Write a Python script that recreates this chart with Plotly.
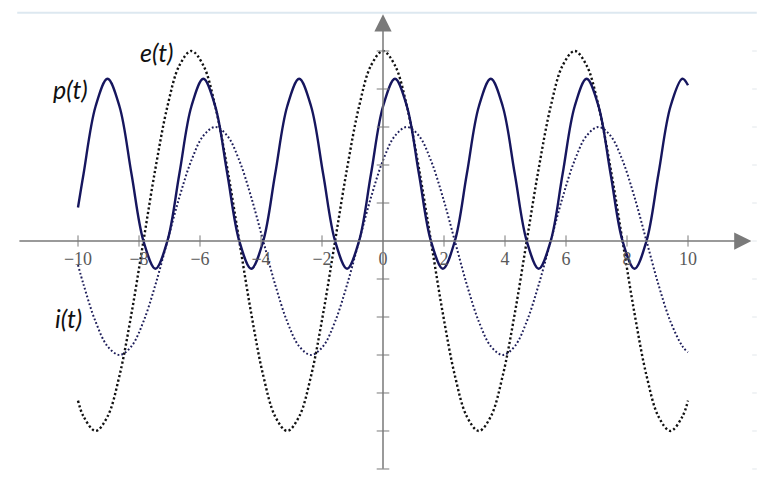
import plotly.graph_objects as go

# sample times (t = -10, then k*pi/8 for k = -25..25, then t = 10)
t = [-10.0,
     -9.817, -9.425, -9.032, -8.639, -8.247, -7.854, -7.461, -7.069, -6.676, -6.283,
     -5.890, -5.498, -5.105, -4.712, -4.320, -3.927, -3.534, -3.142, -2.749, -2.356,
     -1.963, -1.571, -1.178, -0.785, -0.393, 0.0,
     0.393, 0.785, 1.178, 1.571, 1.963, 2.356, 2.749, 3.142, 3.534, 3.927,
     4.320, 4.712, 5.105, 5.498, 5.890, 6.283, 6.676, 7.069, 7.461, 7.854,
     8.247, 8.639, 9.032, 9.425, 9.817,
     10.0]

# e(t) voltage
e_vals = [-4.20,
          -4.62, -5.00, -4.62, -3.54, -1.91, 0.00, 1.91, 3.54, 4.62, 5.00,
          4.62, 3.54, 1.91, 0.00, -1.91, -3.54, -4.62, -5.00, -4.62, -3.54,
          -1.91, 0.00, 1.91, 3.54, 4.62, 5.00,
          4.62, 3.54, 1.91, 0.00, -1.91, -3.54, -4.62, -5.00, -4.62, -3.54,
          -1.91, 0.00, 1.91, 3.54, 4.62, 5.00, 4.62, 3.54, 1.91, 0.00,
          -1.91, -3.54, -4.62, -5.00, -4.62,
          -4.20]

# i(t) current
i_vals = [-0.63,
          -1.15, -2.12, -2.77, -3.00, -2.77, -2.12, -1.15, 0.00, 1.15, 2.12,
          2.77, 3.00, 2.77, 2.12, 1.15, 0.00, -1.15, -2.12, -2.77, -3.00,
          -2.77, -2.12, -1.15, 0.00, 1.15, 2.12,
          2.77, 3.00, 2.77, 2.12, 1.15, 0.00, -1.15, -2.12, -2.77, -3.00,
          -2.77, -2.12, -1.15, 0.00, 1.15, 2.12, 2.77, 3.00, 2.77, 2.12,
          1.15, 0.00, -1.15, -2.12, -2.77,
          -2.93]

# p(t) power
p_vals = [0.88,
          1.77, 3.54, 4.27, 3.54, 1.77, 0.00, -0.73, 0.00, 1.77, 3.54,
          4.27, 3.54, 1.77, 0.00, -0.73, 0.00, 1.77, 3.54, 4.27, 3.54,
          1.77, 0.00, -0.73, 0.00, 1.77, 3.54,
          4.27, 3.54, 1.77, 0.00, -0.73, 0.00, 1.77, 3.54, 4.27, 3.54,
          1.77, 0.00, -0.73, 0.00, 1.77, 3.54, 4.27, 3.54, 1.77, 0.00,
          -0.73, 0.00, 1.77, 3.54, 4.27,
          4.10]

x_ticks = [-10, -8, -6, -4, -2, 0, 2, 4, 6, 8, 10]
x_tick_text = ["\u221210", "\u22128", "\u22126", "\u22124", "\u22122", "0",
               "2", "4", "6", "8", "10"]
y_ticks = [-6, -5, -4, -3, -2, -1, 1, 2, 3, 4, 5]

axis_grey = "#7a7a7a"

fig = go.Figure()

fig.add_trace(go.Scatter(
    x=t, y=e_vals, mode="lines", line_shape="spline",
    line=dict(color="#111111", width=2.4, dash="2.2px,2.4px"),
    hoverinfo="skip"
))
fig.add_trace(go.Scatter(
    x=t, y=i_vals, mode="lines", line_shape="spline",
    line=dict(color="#1e1e5a", width=2.0, dash="1.8px,2.2px"),
    hoverinfo="skip"
))
fig.add_trace(go.Scatter(
    x=t, y=p_vals, mode="lines", line_shape="spline",
    line=dict(color="#16165e", width=2.4),
    hoverinfo="skip"
))

# crossing tick marks on both axes
fig.add_trace(go.Scatter(
    x=[v for v in x_ticks if v != 0], y=[0] * (len(x_ticks) - 1),
    mode="markers",
    marker=dict(symbol="line-ns", size=8, line=dict(color=axis_grey, width=1)),
    hoverinfo="skip"
))
fig.add_trace(go.Scatter(
    x=[0] * len(y_ticks), y=y_ticks,
    mode="markers",
    marker=dict(symbol="line-ew", size=9, line=dict(color=axis_grey, width=1)),
    hoverinfo="skip"
))

# axis arrows
fig.add_annotation(x=12.08, y=0, ax=-11.97, ay=0, axref="x", ayref="y",
                   showarrow=True, arrowhead=2, arrowsize=2.3, arrowwidth=1.5,
                   arrowcolor=axis_grey, text="")
fig.add_annotation(x=0, y=5.97, ax=0, ay=-6.03, axref="x", ayref="y",
                   showarrow=True, arrowhead=2, arrowsize=2.3, arrowwidth=1.5,
                   arrowcolor=axis_grey, text="")

# curve labels
label_font = dict(family="Lato, Noto Sans, sans-serif", size=25, color="#111111")
for txt, lx, ly in [("<i>e(t)</i>", -7.41, 4.97),
                    ("<i>p(t)</i>", -10.26, 4.0),
                    ("<i>i(t)</i>", -10.3, -2.03)]:
    fig.add_annotation(x=lx, y=ly, text=txt, showarrow=False, font=label_font)

# faint band at the top and faint marks on the right edge
fig.add_shape(type="line", xref="paper", yref="paper",
              x0=0.012, x1=0.975, y0=0.990, y1=0.990,
              line=dict(color="#dde8f0", width=2))
for v in y_ticks + [0]:
    fig.add_shape(type="line", xref="paper", yref="y",
                  x0=0.969, x1=0.975, y0=v, y1=v,
                  line=dict(color="#e2e7eb", width=1))

fig.update_layout(
    width=768, height=479,
    margin=dict(l=0, r=0, t=0, b=0),
    paper_bgcolor="white", plot_bgcolor="white",
    showlegend=False,
)
fig.update_xaxes(
    range=[-12.295, 12.885],
    tickvals=x_ticks, ticktext=x_tick_text,
    tickfont=dict(family="Liberation Serif, serif", size=18, color="#5a5a5a"),
    ticks="outside", ticklen=1, tickcolor="rgba(0,0,0,0)",
    showgrid=False, zeroline=False, showline=False,
    anchor="free", position=0.5136,
)
fig.update_yaxes(
    range=[-6.474, 6.132],
    showticklabels=False, showgrid=False, zeroline=False, showline=False,
)

fig.write_html("out.html")
